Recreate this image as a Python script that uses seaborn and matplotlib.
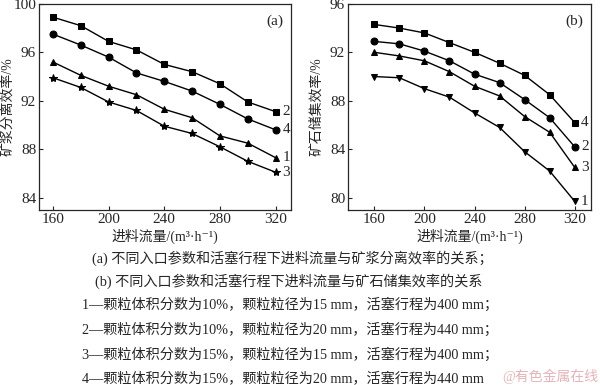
import numpy as np
import pandas as pd
import matplotlib
matplotlib.use("Agg")
import matplotlib.pyplot as plt
import seaborn as sns

sns.set_style("ticks")
plt.rcParams["font.family"] = ["Liberation Serif", "Noto Sans CJK SC", "DejaVu Serif"]

flow = [160, 180, 200, 220, 240, 260, 280, 300, 320]

# (a) slurry separation efficiency
sep_1 = [95.2, 94.1, 93.2, 92.5, 91.3, 90.6, 89.1, 88.5, 87.3]
sep_2 = [98.9, 98.2, 96.9, 96.2, 95.0, 94.4, 93.4, 91.9, 91.1]
sep_3 = [93.9, 93.1, 91.9, 91.2, 89.9, 89.3, 88.2, 87.0, 86.1]
sep_4 = [97.5, 96.6, 95.6, 94.3, 93.6, 92.8, 91.7, 90.5, 89.6]

# (b) ore storage efficiency
sto_1 = [90.0, 89.9, 89.0, 88.3, 87.0, 85.8, 83.8, 82.2, 79.7]
sto_2 = [92.9, 92.7, 92.1, 91.3, 90.2, 89.5, 88.1, 86.6, 84.2]
sto_3 = [92.0, 91.7, 91.3, 90.4, 89.2, 88.4, 86.7, 85.4, 82.5]
sto_4 = [94.3, 94.0, 93.6, 92.8, 92.0, 91.1, 90.1, 88.5, 86.2]

markers_a = {"1": "^", "2": "s", "3": "*", "4": "o"}
markers_b = {"1": "v", "2": "o", "3": "^", "4": "s"}

captions = [
    "(a) 不同入口参数和活塞行程下进料流量与矿浆分离效率的关系；",
    "(b) 不同入口参数和活塞行程下进料流量与矿石储集效率的关系",
    "1—颗粒体积分数为10%，颗粒粒径为15 mm，活塞行程为400 mm；",
    "2—颗粒体积分数为10%，颗粒粒径为20 mm，活塞行程为440 mm；",
    "3—颗粒体积分数为15%，颗粒粒径为15 mm，活塞行程为400 mm；",
    "4—颗粒体积分数为15%，颗粒粒径为20 mm，活塞行程为440 mm",
]


def make_df(series):
    rows = []
    for name, vals in series.items():
        for x, y in zip(flow, vals):
            rows.append({"flow": x, "val": y, "curve": name})
    return pd.DataFrame(rows)


df_a = make_df({"1": sep_1, "2": sep_2, "3": sep_3, "4": sep_4})
df_b = make_df({"1": sto_1, "2": sto_2, "3": sto_3, "4": sto_4})

fig = plt.figure(figsize=(6, 3.85), dpi=100)
ax1 = fig.add_axes([0.065, 0.455, 0.42, 0.535])
ax2 = fig.add_axes([0.58, 0.455, 0.405, 0.535])


def draw(ax, df, markers, xlim, ylim, yticks, tag, ylabel, ylab_x):
    for name in ["1", "2", "3", "4"]:
        sub = df[df["curve"] == name]
        m = markers[name]
        sns.lineplot(data=sub, x="flow", y="val", ax=ax, color="black", lw=1.0,
                     marker=m, markersize=6 if m == "*" else 5, markeredgecolor="black",
                     legend=False)
        ax.text(sub["flow"].iloc[-1] + 5, sub["val"].iloc[-1], name,
                fontsize=11, va="center", ha="left")
    ax.set_xlim(*xlim)
    ax.set_ylim(*ylim)
    ax.set_xticks([160, 200, 240, 280, 320])
    ax.set_yticks(yticks)
    ax.tick_params(direction="in", length=3, labelsize=11, width=0.8, pad=2)
    for s in ax.spines.values():
        s.set_linewidth(0.9)
    ax.set_xlabel("进料流量/(m³·h⁻¹)", fontsize=10, labelpad=2)
    ax.set_ylabel(ylabel, fontsize=10)
    ax.yaxis.set_label_coords(ylab_x, 0.5)
    ax.text(0.97, 0.95, tag, transform=ax.transAxes, ha="right", va="top", fontsize=11)


draw(ax1, df_a, markers_a, (150, 331), (83, 100), [84, 88, 92, 96, 100], "(a)",
     "矿浆分离效率/%", -0.098)
draw(ax2, df_b, markers_b, (139, 333), (79, 96), [80, 84, 88, 92, 96], "(b)",
     "矿石储集效率/%", -0.103)

ys = [258, 281, 305, 330, 355, 378]
xs = [92, 95, 82, 82, 82, 82]
for t, y, x in zip(captions, ys, xs):
    fig.text(x / 600, 1 - y / 385, t, fontsize=10.2, ha="left", va="center")

fig.text(598 / 600, 1 - 376 / 385, "@有色金属在线", fontsize=10, color="#e0a0a8",
         ha="right", va="center", alpha=0.8)

fig.savefig("out.png", dpi=100)
